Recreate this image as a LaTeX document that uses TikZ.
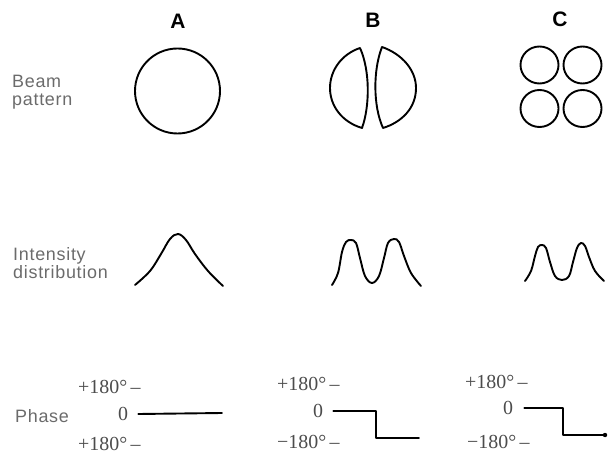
\documentclass[tikz,border=0pt]{standalone}
\usepackage{fontspec}
\setmainfont{Liberation Serif}
\setsansfont{Liberation Sans}
\usepackage{tikz}
\definecolor{labelgray}{gray}{0.42}
\definecolor{deggray}{gray}{0.3}

\begin{document}
\begin{tikzpicture}[x=1bp, y=-1bp, line cap=round, line join=round,
	curve/.style={line width=1.9bp},
	rowlabel/.style={anchor=west, align=left, inner sep=0pt, text=labelgray,
		font=\fontsize{18}{18.5}\selectfont\sffamily\addfontfeature{LetterSpace=4}},
	colhead/.style={inner sep=0pt, font=\fontsize{21}{22}\selectfont\sffamily\bfseries},
	deglabel/.style={anchor=west, inner sep=0pt, text=deggray,
		font=\fontsize{20}{22}\selectfont}]

	\useasboundingbox (0,0) rectangle (609,457);

	\node[colhead] (headA) at (178,21) {A};
	\node[colhead] (headB) at (373,20) {B};
	\node[colhead] (headC) at (560,19) {C};

	\node[rowlabel] (beam) at (12,92) {Beam\\pattern};
	\node[rowlabel] (intensity) at (13,263) {Intensity\\distribution};
	\node[rowlabel] (phase) at (15,416) {Phase};

	% beam patterns
	\draw[curve] (177.5,91) circle [radius=42.5];

	\draw[curve] (360,48) .. controls (342,54) and (330,70) .. (330,88)
		.. controls (330,106) and (342,122) .. (362,128)
		.. controls (370,106) and (370,70) .. cycle;
	\draw[curve] (382,47) .. controls (402,54) and (416,70) .. (416,88)
		.. controls (416,108) and (402,122) .. (383,128)
		.. controls (373,106) and (373,70) .. cycle;

	\foreach \cx in {539.5,582.5}
		\foreach \cy in {65,108.5}
			\draw[curve] (\cx,\cy) ellipse [x radius=19, y radius=18.5];

	% intensity distributions
	\draw[curve] plot[smooth, tension=0.6] coordinates {(135,285) (150,271) (161,254)
		(170,239) (178,234) (186,240) (195,254) (208,271) (223,286)};
	\draw[curve] plot[smooth, tension=0.6] coordinates {(332,285) (338,273) (342,252)
		(346,242) (351,240) (356,243) (360,258) (365,276) (372,283) (379,276)
		(384,258) (388,243) (394,239) (399,242) (404,256) (411,273) (421,286)};
	\draw[curve] plot[smooth, tension=0.6] coordinates {(525,281) (531,271) (535,256)
		(538,247) (542,245) (546,248) (550,262) (555,276) (562,280) (569,276)
		(573,262) (577,248) (581,243) (585,246) (589,257) (595,271) (604,281)};

	% phase
	\node[deglabel] (topA) at (78,387) {+180°\,–};
	\node[deglabel] (zeroA) at (118,414) {0};
	\node[deglabel] (botA) at (78,444) {+180°\,–};

	\node[deglabel] (topB) at (277,384) {+180°\,–};
	\node[deglabel] (zeroB) at (313,411) {0};
	\node[deglabel] (botB) at (277,442) {−180°\,–};

	\node[deglabel] (topC) at (465,382) {+180°\,–};
	\node[deglabel] (zeroC) at (503,408) {0};
	\node[deglabel] (botC) at (467,442) {−180°\,–};

	\coordinate (endA) at (222,413);
	\coordinate (stepB) at (376,438);
	\coordinate (endB) at (419,438);
	\coordinate (stepC) at (563,435);
	\coordinate (endC) at (605,435);

	\draw[curve] ([xshift=10bp]zeroA.east) -- (endA);
	\draw[curve] ([xshift=10bp]zeroB.east) -| (stepB) -- (endB);
	\draw[curve] ([xshift=11bp]zeroC.east) -| (stepC) -- (endC);
	\fill (endC) circle [radius=2.2];

\end{tikzpicture}
\end{document}
